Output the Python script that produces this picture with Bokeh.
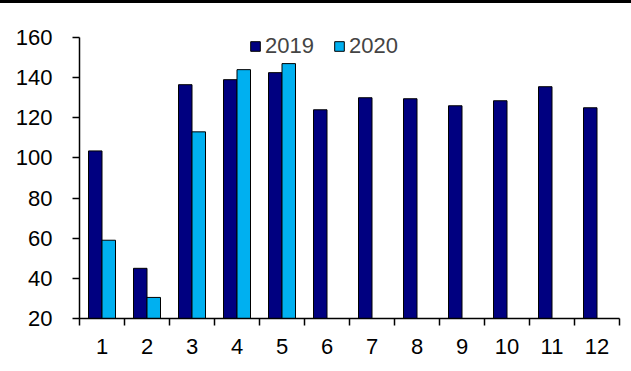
from bokeh.plotting import figure
from bokeh.models import Range1d, FixedTicker, Legend, LegendItem, Div, ColumnDataSource
from bokeh.layouts import column
from bokeh.transform import dodge
from bokeh.embed import file_html
from bokeh.resources import INLINE

months = [1, 2, 3, 4, 5, 6, 7, 8, 9, 10, 11, 12]
month_labels = ["1", "2", "3", "4", "5", "6", "7", "8", "9", "10", "11", "12"]
v2019 = [103.5, 45, 136.5, 139, 142.5, 124, 130, 129.5, 126, 128.5, 135.5, 125]
v2020 = [59, 30.5, 113, 144, 147]
yticks = [20, 40, 60, 80, 100, 120, 140, 160]

FONT = "Liberation Sans"
FS = "22px"

s1 = ColumnDataSource(dict(x=months, v=v2019))
s2 = ColumnDataSource(dict(x=months[:len(v2020)], v=v2020))

p = figure(width=631, height=368, x_range=Range1d(0.5, 12.5), y_range=Range1d(20, 165),
           output_backend="svg", toolbar_location=None,
           min_border_left=79, min_border_right=12, min_border_top=24, min_border_bottom=53)
p.outline_line_color = None
p.xgrid.visible = False
p.ygrid.visible = False

r1 = p.vbar(x=dodge("x", -0.15), top="v", bottom=20, width=0.3, source=s1,
            fill_color="#000080", line_color="black", line_width=1)
r2 = p.vbar(x=dodge("x", 0.15), top="v", bottom=20, width=0.3, source=s2,
            fill_color="#00B0F0", line_color="black", line_width=1)

legend = Legend(items=[LegendItem(label="2019", renderers=[r1]),
                       LegendItem(label="2020", renderers=[r2])],
                orientation="horizontal", location=(170, 259))
legend.background_fill_alpha = 0
legend.border_line_color = None
legend.label_text_font = FONT
legend.label_text_font_size = FS
legend.glyph_width = 12
legend.glyph_height = 12
legend.label_standoff = 4
legend.spacing = 19
legend.padding = 0
legend.margin = 0
p.add_layout(legend)

ya = p.yaxis[0]
ya.ticker = FixedTicker(ticks=yticks, minor_ticks=[])
ya.bounds = (yticks[0], yticks[-1])
ya.major_tick_in = 0
ya.major_tick_out = 7
ya.minor_tick_out = 0
ya.axis_line_width = 1.5
ya.major_tick_line_width = 1.5
ya.major_label_standoff = 20
ya.major_label_text_font = FONT
ya.major_label_text_font_size = FS
ya.major_label_text_color = "black"

xa = p.xaxis[0]
xa.ticker = FixedTicker(ticks=months, minor_ticks=[m - 0.5 for m in months] + [months[-1] + 0.5])
xa.major_label_overrides = {m: l for m, l in zip(months, month_labels)}
xa.major_tick_in = 0
xa.major_tick_out = 0
xa.minor_tick_in = 0
xa.minor_tick_out = 7
xa.minor_tick_line_color = "black"
xa.minor_tick_line_width = 1.5
xa.axis_line_width = 1.5
xa.major_label_standoff = 13
xa.major_label_text_font = FONT
xa.major_label_text_font_size = FS
xa.major_label_text_color = "black"

top = Div(text="", width=631, height=3, margin=0, styles={"background-color": "black"})
p.margin = 0
layout = column(top, p, spacing=0, margin=0)

open("out.html", "w").write(file_html(layout, INLINE))
